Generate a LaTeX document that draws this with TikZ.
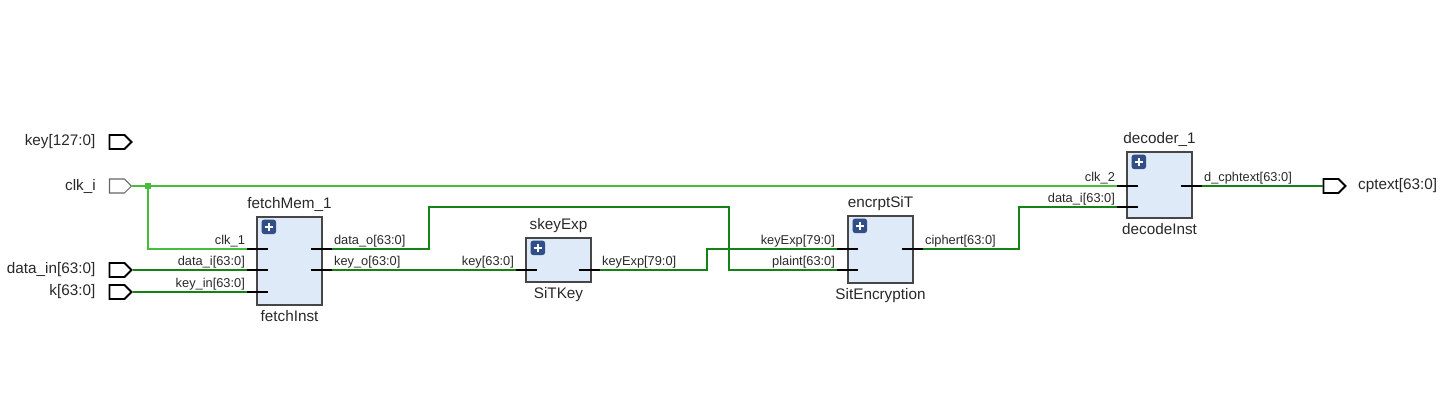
\documentclass[tikz,border=0pt]{standalone}
\usepackage{fontspec}
\setmainfont{Liberation Sans}
\usetikzlibrary{positioning,shapes.symbols}
\definecolor{busgreen}{RGB}{20,130,20}
\definecolor{clkgreen}{RGB}{70,190,60}
\definecolor{blockfill}{RGB}{222,234,248}
\definecolor{blockedge}{RGB}{70,70,70}
\definecolor{iconblue}{RGB}{50,78,135}
\definecolor{txt}{RGB}{40,40,40}

\begin{document}
\begin{tikzpicture}[x=0.02cm, y=-0.02cm,
    block/.style={draw=blockedge, fill=blockfill, line width=0.9pt, minimum width=1.3cm, inner sep=0pt},
    port/.style={draw, fill=white, signal, signal to=east, minimum width=0.44cm, minimum height=0.28cm, inner sep=0pt, line width=1.1pt},
    clkport/.style={port, draw=black!60, line width=0.6pt},
    icon/.style={fill=iconblue, rounded corners=1.5pt, minimum size=0.29cm, inner sep=0pt,
        path picture={\draw[white, line width=1.4pt] (path picture bounding box.center) +(-4,0) -- +(4,0)
            (path picture bounding box.center) +(0,-4) -- +(0,4);}},
    junction/.style={fill=clkgreen, minimum size=0.12cm, inner sep=0pt},
    bigtext/.style={font=\fontsize{8.7}{10}\selectfont, text=txt, inner sep=0.5pt},
    pintext/.style={font=\fontsize{7.3}{8.5}\selectfont, text=txt, inner sep=1pt},
    bus/.style={draw=busgreen, line width=1.6pt},
    clkwire/.style={draw=clkgreen, line width=0.6pt},
    stub/.style={draw=black, line width=1.1pt}]
    \useasboundingbox (0,0) rectangle (1450,416);

    % top level ports
    \node[port] (key) at (117,142) {};
    \node[clkport] (clk) at (117,186) {};
    \node[port] (din) at (117,270) {};
    \node[port] (k) at (117,292) {};
    \node[port] (cpt) at (1331,186) {};
    \node[bigtext, left=0.24cm of key] (keylbl) {key[127:0]};
    \node[bigtext, left=0.24cm of clk] (clklbl) {clk\_i};
    \node[bigtext, left=0.24cm of din] (dinlbl) {data\_in[63:0]};
    \node[bigtext, left=0.24cm of k] (klbl) {k[63:0]};
    \node[bigtext, right=0.2cm of cpt] (cptlbl) {cptext[63:0]};

    % blocks
    \node[block, minimum height=1.76cm] (fm) at (289.5,261) {};
    \node[block, minimum height=0.88cm] (ske) at (558.5,260) {};
    \node[block, minimum height=1.34cm] (enc) at (880.5,249.5) {};
    \node[block, minimum height=1.32cm] (dec) at (1159.5,185) {};

    \node[bigtext, above=2pt of fm] (fmname) {fetchMem\_1};
    \node[bigtext, below=2pt of fm] (fminst) {fetchInst};
    \node[bigtext, above=2pt of ske] (skename) {skeyExp};
    \node[bigtext, below=2pt of ske] (skeinst) {SiTKey};
    \node[bigtext, above=2pt of enc] (encname) {encrptSiT};
    \node[bigtext, below=2pt of enc] (encinst) {SitEncryption};
    \node[bigtext, above=2pt of dec] (decname) {decoder\_1};
    \node[bigtext, below=2pt of dec] (decinst) {decodeInst};

    \node[icon, below right=0.06cm and 0.1cm of fm.north west] (fmicon) {};
    \node[icon, below right=0.06cm and 0.1cm of ske.north west] (skeicon) {};
    \node[icon, below right=0.06cm and 0.1cm of enc.north west] (encicon) {};
    \node[icon, below right=0.06cm and 0.1cm of dec.north west] (decicon) {};

    % pin ends
    \coordinate (fm_clk) at (247,249);
    \coordinate (fm_din) at (247,270);
    \coordinate (fm_kin) at (247,292);
    \coordinate (fm_dout) at (332,249);
    \coordinate (fm_kout) at (332,270);
    \coordinate (ske_key) at (516,270);
    \coordinate (ske_exp) at (600,270);
    \coordinate (enc_exp) at (837,249);
    \coordinate (enc_pl) at (837,270);
    \coordinate (enc_ct) at (923,249);
    \coordinate (dec_clk) at (1117,186);
    \coordinate (dec_din) at (1117,207);
    \coordinate (dec_out) at (1202,186);

    % wires
    \node[junction] (j) at (148,186) {};
    \draw[clkwire] (clk.east) -- (j) -- (dec_clk);
    \draw[clkwire] (j) |- (fm_clk);
    \draw[bus] (din.east) -- (fm_din);
    \draw[bus] (k.east) -- (fm_kin);
    \draw[bus] (fm_dout) -| (429,207) -| (729,270) -- (enc_pl);
    \draw[bus] (fm_kout) -- (ske_key);
    \draw[bus] (ske_exp) -| (707,249) -- (enc_exp);
    \draw[bus] (enc_ct) -| (1019,207) -- (dec_din);
    \draw[bus] (dec_out) -- (cpt.west);

    % pin stubs
    \foreach \p in {fm_clk, fm_din, fm_kin, ske_key, enc_exp, enc_pl, dec_clk, dec_din}
        \draw[stub] (\p) -- +(21,0);
    \foreach \p in {fm_dout, fm_kout, ske_exp, enc_ct, dec_out}
        \draw[stub] (\p) -- +(-21,0);

    % pin names
    \node[pintext, anchor=south east] (fmclkl) at (fm_clk) {clk\_1};
    \node[pintext, anchor=south east] (fmdinl) at (fm_din) {data\_i[63:0]};
    \node[pintext, anchor=south east] (fmkinl) at (fm_kin) {key\_in[63:0]};
    \node[pintext, anchor=south west] (fmdoutl) at (fm_dout) {data\_o[63:0]};
    \node[pintext, anchor=south west] (fmkoutl) at (fm_kout) {key\_o[63:0]};
    \node[pintext, anchor=south east] (skekeyl) at (ske_key) {key[63:0]};
    \node[pintext, anchor=south west] (skeexpl) at (ske_exp) {keyExp[79:0]};
    \node[pintext, anchor=south east] (encexpl) at (enc_exp) {keyExp[79:0]};
    \node[pintext, anchor=south east] (encpll) at (enc_pl) {plaint[63:0]};
    \node[pintext, anchor=south west] (enctl) at (enc_ct) {ciphert[63:0]};
    \node[pintext, anchor=south east] (decclkl) at (dec_clk) {clk\_2};
    \node[pintext, anchor=south east] (decdinl) at (dec_din) {data\_i[63:0]};
    \node[pintext, anchor=south west] (decoutl) at (dec_out) {d\_cphtext[63:0]};
\end{tikzpicture}
\end{document}
